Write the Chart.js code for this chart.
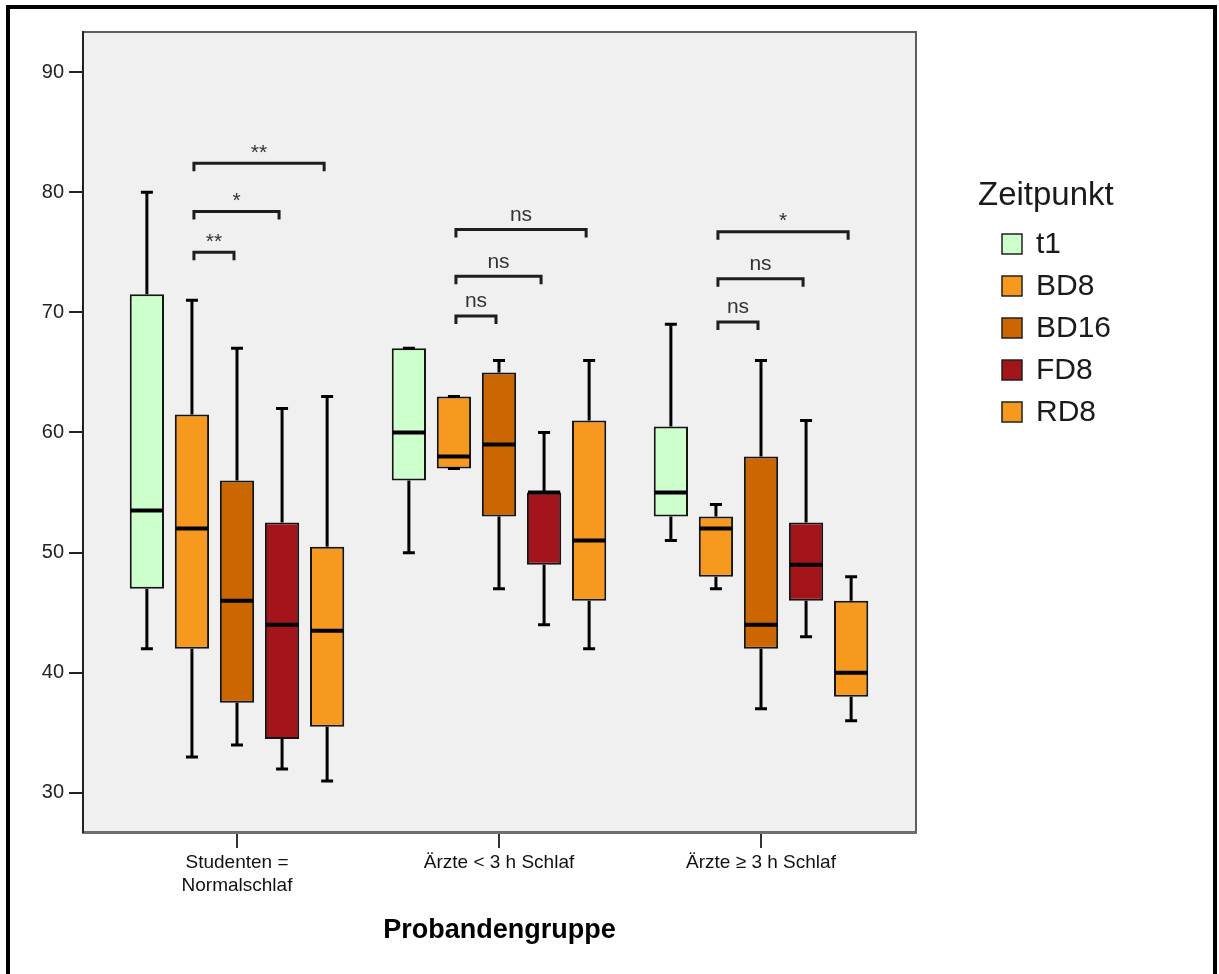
<!DOCTYPE html>
<html><head><meta charset="utf-8">
<script src="https://cdn.jsdelivr.net/npm/chart.js@4/dist/chart.umd.min.js"></script>
<style>html,body{margin:0;padding:0;background:#fff;overflow:hidden}#wrap{position:relative;width:1219px;height:974px}</style>
</head><body><div id="wrap"><canvas id="c"></canvas></div>
<script>
// ---- data ----
const groups = [["Studenten =", "Normalschlaf"], "Ärzte < 3 h Schlaf", "Ärzte ≥ 3 h Schlaf"];
const seriesNames = ["t1", "BD8", "BD16", "FD8", "RD8"];
const seriesColors = ["#ccffcc", "#f7991f", "#cc6600", "#a3141b", "#f7991f"];
// per group: [min, q1, median, q3, max]
const t1Stats   = [[42, 47, 53.5, 71.5, 80], [50, 56, 60, 67, 67], [51, 53, 55, 60.5, 69]];
const bd8Stats  = [[33, 42, 52, 61.5, 71], [57, 57, 58, 63, 63], [47, 48, 52, 53, 54]];
const bd16Stats = [[34, 37.5, 46, 56, 67], [47, 53, 59, 65, 66], [37, 42, 44, 58, 66]];
const fd8Stats  = [[32, 34.5, 44, 52.5, 62], [44, 49, 55, 55, 60], [43, 46, 49, 52.5, 61]];
const rd8Stats  = [[31, 35.5, 43.5, 50.5, 63], [42, 46, 51, 61, 66], [36, 38, 40, 46, 48]];
const yTicks = [30, 40, 50, 60, 70, 80, 90];
// significance: [group, fromSeries, toSeries, level, label]
const brackets = [
  [0, 1, 2, 75.0, "**"], [0, 1, 3, 78.4, "*"], [0, 1, 4, 82.4, "**"],
  [1, 1, 2, 69.7, "ns"], [1, 1, 3, 73.0, "ns"], [1, 1, 4, 76.9, "ns"],
  [2, 1, 2, 69.2, "ns"], [2, 1, 3, 72.8, "ns"], [2, 1, 4, 76.7, "*"]
];
const allStats = [t1Stats, bd8Stats, bd16Stats, fd8Stats, rd8Stats];
const FONT = "'Liberation Sans', Arial, sans-serif";

const datasets = seriesNames.map((name, s) => ({
  label: name,
  stats: allStats[s],
  data: allStats[s].map((st, g) => ({ x: g, y: [st[1], st[3]] })),
  backgroundColor: seriesColors[s],
  borderColor: '#151515',
  borderWidth: 2,
  borderSkipped: false
}));

const boxPlugin = {
  id: 'boxes',
  beforeDraw(chart) {
    const { ctx, chartArea: a } = chart;
    ctx.save();
    ctx.fillStyle = '#f0f0f0';
    ctx.fillRect(a.left, a.top, a.right - a.left, a.bottom - a.top);
    ctx.strokeStyle = '#5e5e5e';
    ctx.lineWidth = 2;
    ctx.beginPath();
    ctx.moveTo(a.left, a.top); ctx.lineTo(a.right, a.top); ctx.lineTo(a.right, a.bottom);
    ctx.stroke();
    ctx.restore();
  },
  afterDatasetsDraw(chart) {
    const { ctx } = chart;
    const ys = chart.scales.y;
    const Y = v => ys.getPixelForValue(v);
    ctx.save();
    ctx.strokeStyle = '#000';
    chart.data.datasets.forEach((ds, di) => {
      const meta = chart.getDatasetMeta(di);
      meta.data.forEach((bar, i) => {
        const st = ds.stats[i];
        const x = bar.x, w = bar.width;
        ctx.lineWidth = 3;
        ctx.beginPath();
        ctx.moveTo(x, Y(st[3])); ctx.lineTo(x, Y(st[4]));
        ctx.moveTo(x, Y(st[1])); ctx.lineTo(x, Y(st[0]));
        ctx.moveTo(x - 6, Y(st[4])); ctx.lineTo(x + 6, Y(st[4]));
        ctx.moveTo(x - 6, Y(st[0])); ctx.lineTo(x + 6, Y(st[0]));
        ctx.stroke();
        ctx.lineWidth = 4;
        ctx.beginPath();
        ctx.moveTo(x - w / 2 + 1, Y(st[2])); ctx.lineTo(x + w / 2 - 1, Y(st[2]));
        ctx.stroke();
      });
    });
    // brackets
    ctx.lineWidth = 3;
    ctx.strokeStyle = '#1e1e1e';
    ctx.fillStyle = '#333';
    ctx.textAlign = 'center';
    ctx.textBaseline = 'bottom';
    brackets.forEach(([g, f, t, lvl, lab]) => {
      const x1 = chart.getDatasetMeta(f).data[g].x + 2;
      const x2 = chart.getDatasetMeta(t).data[g].x - 3;
      const y = Y(lvl);
      ctx.beginPath();
      ctx.moveTo(x1, y + 8); ctx.lineTo(x1, y); ctx.lineTo(x2, y); ctx.lineTo(x2, y + 8);
      ctx.stroke();
      ctx.font = (lab === 'ns' ? '21px ' : '21px ') + FONT;
      ctx.fillText(lab, (x1 + x2) / 2, y - (lab === 'ns' ? 4 : 0));
    });
    ctx.restore();
  },
  afterDraw(chart) {
    const { ctx } = chart;
    ctx.save();
    // legend
    ctx.fillStyle = '#1a1a1a';
    ctx.textAlign = 'left';
    ctx.textBaseline = 'middle';
    ctx.font = '33px ' + FONT;
    ctx.fillText('Zeitpunkt', 978, 196);
    ctx.font = '30px ' + FONT;
    chart.data.datasets.forEach((ds, i) => {
      const cy = 244 + i * 42;
      ctx.fillStyle = ds.backgroundColor;
      ctx.fillRect(1002, cy - 10, 20, 20);
      ctx.strokeStyle = '#222';
      ctx.lineWidth = 1.5;
      ctx.strokeRect(1002, cy - 10, 20, 20);
      ctx.fillStyle = '#1a1a1a';
      ctx.fillText(ds.label, 1036, cy + 1);
    });
    // outer frame
    ctx.fillStyle = '#000';
    ctx.fillRect(6, 5, 4, 969);
    ctx.fillRect(6, 5, 1210, 4);
    ctx.fillRect(1213, 5, 4, 969);
    ctx.restore();
  }
};

new Chart(document.getElementById('c'), {
  type: 'bar',
  data: { datasets },
  options: {
    responsive: true,
    maintainAspectRatio: false,
    animation: false,
    layout: { padding: { left: 0, top: 32, right: 303, bottom: 0 } },
    datasets: { bar: { barPercentage: 0.76, categoryPercentage: 0.86 } },
    plugins: { legend: { display: false }, tooltip: { enabled: false } },
    scales: {
      x: {
        type: 'linear',
        min: -0.5878, max: 2.5916,
        offset: false,
        afterBuildTicks: s => { s.ticks = groups.map((g, i) => ({ value: i })); },
        afterFit: s => { s.height = 142; },
        ticks: {
          callback: v => groups[v],
          font: { family: FONT, size: 19, lineHeight: 1.22 },
          color: '#111', padding: 3, maxRotation: 0, autoSkip: false
        },
        grid: { display: true, offset: false, drawOnChartArea: false, drawTicks: true, tickLength: 16, color: '#333', lineWidth: 2 },
        border: { display: true, color: '#6e6e6e', width: 3 },
        title: {
          display: true, text: 'Probandengruppe',
          font: { family: FONT, size: 27, weight: 'bold' }, color: '#000',
          padding: { top: 0, bottom: 27 }
        }
      },
      y: {
        min: 26.75, max: 93.33,
        afterBuildTicks: s => { s.ticks = yTicks.map(v => ({ value: v })); },
        afterFit: s => { s.width = 83; },
        ticks: { font: { family: FONT, size: 20 }, color: '#222', padding: 5 },
        grid: { display: true, drawOnChartArea: false, drawTicks: true, tickLength: 14, color: '#222', lineWidth: 2 },
        border: { display: true, color: '#222', width: 2 }
      }
    }
  },
  plugins: [boxPlugin]
});
</script>
</body></html>
